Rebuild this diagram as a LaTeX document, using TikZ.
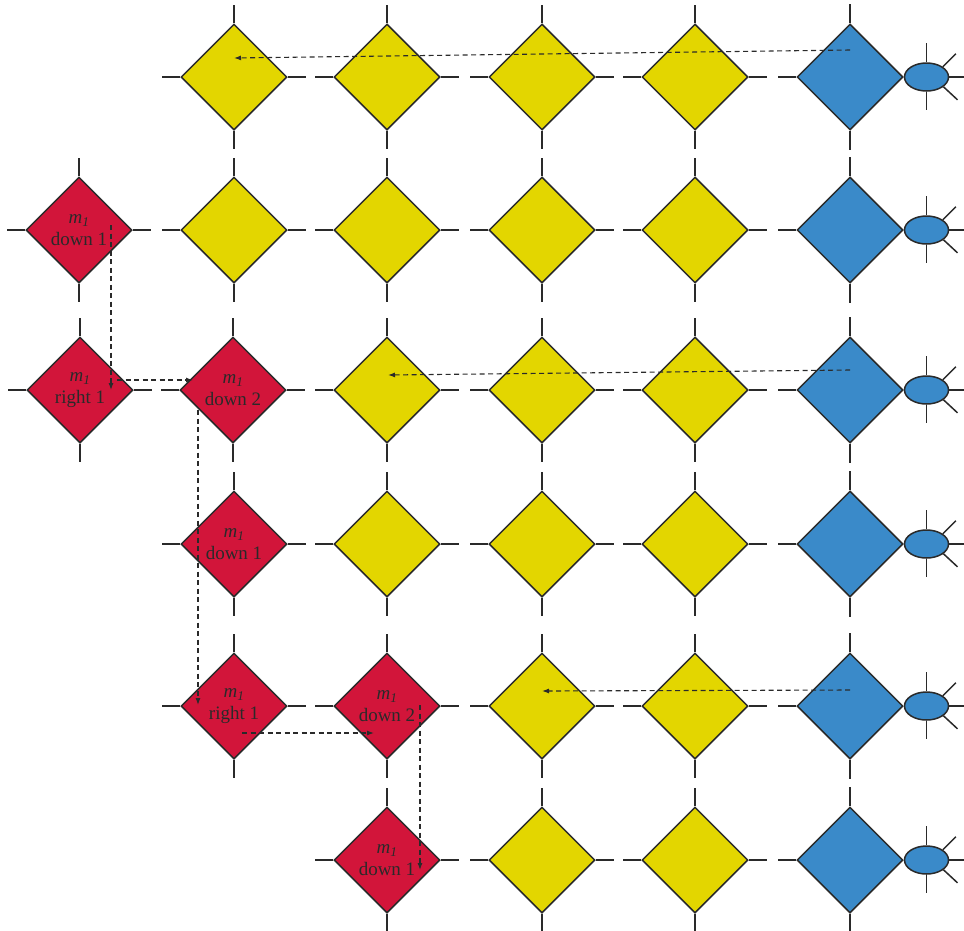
\documentclass[tikz,border=0pt]{standalone}
\usepackage{fontspec}
\setmainfont{Liberation Serif}
\usetikzlibrary{shapes.geometric,arrows.meta,calc}
\definecolor{cred}{HTML}{D2153A}
\definecolor{cyel}{HTML}{E3D600}
\definecolor{cblu}{HTML}{3A8AC9}
\definecolor{cink}{HTML}{2A2A2A}
\tikzset{
  dia/.style={diamond, draw=cink, line width=1.5pt, minimum width=106pt, minimum height=106pt, inner sep=0pt, aspect=1, font=\fontsize{19}{22}\selectfont, text=cink, align=center},
  stub/.style={draw=cink, line width=1.5pt},
  flow/.style={draw=cink, line width=1.1pt, dash pattern=on 5pt off 3.5pt, -{Latex[length=7pt,width=5pt]}},
  eye/.style={ellipse, draw=cink, line width=1.5pt, fill=cblu, minimum width=44pt, minimum height=28pt, inner sep=0pt}
}
\newcommand\mm{\textit{m}\textsubscript{\textit{1}}}
\newcommand\dmd[5]{%
  \node[dia, fill=#4] (#1) at (#2,#3) {#5};
  \draw[stub] (#1.north) -- ++(0,-18);
  \draw[stub] (#1.south) -- ++(0,18);
  \draw[stub] (#1.west) -- ++(-18,0);
  \draw[stub] (#1.east) -- ++(18,0);
}
\newcommand\bdmd[3]{%
  \node[dia, fill=cblu] (#1) at (#2,#3) {};
  \draw[stub] (#1.north) -- ++(0,-19);
  \draw[stub] (#1.south) -- ++(0,19);
  \draw[stub] (#1.west) -- ++(-18,0);
  \node[eye, anchor=west] (#1e) at (#1.east) {};
  \draw[stub] (#1e.north) -- ++(0,-19);
  \draw[stub] (#1e.south) -- ++(0,18);
  \draw[stub] (#1e.east) -- ++(18,0);
  \draw[stub] (#1e.32) -- ++(13,-13);
  \draw[stub] (#1e.-30) -- ++(14,13);
}
\begin{document}
\begin{tikzpicture}[x=1pt,y=-1pt]
\useasboundingbox (0,0) rectangle (964,930);
% row 1
\dmd{r1c2}{234}{77}{cyel}{}
\dmd{r1c3}{387}{77}{cyel}{}
\dmd{r1c4}{542}{77}{cyel}{}
\dmd{r1c5}{695}{77}{cyel}{}
\bdmd{r1c6}{850}{77}
% row 2
\dmd{r2c1}{79}{230}{cred}{\mm\\down 1}
\dmd{r2c2}{234}{230}{cyel}{}
\dmd{r2c3}{387}{230}{cyel}{}
\dmd{r2c4}{542}{230}{cyel}{}
\dmd{r2c5}{695}{230}{cyel}{}
\bdmd{r2c6}{850}{230}
% row 3
\dmd{r3c1}{80}{390}{cred}{\mm\\right 1}
\dmd{r3c2}{233}{390}{cred}{\mm\\down 2}
\dmd{r3c3}{387}{390}{cyel}{}
\dmd{r3c4}{542}{390}{cyel}{}
\dmd{r3c5}{695}{390}{cyel}{}
\bdmd{r3c6}{850}{390}
% row 4
\dmd{r4c2}{234}{544}{cred}{\mm\\down 1}
\dmd{r4c3}{387}{544}{cyel}{}
\dmd{r4c4}{542}{544}{cyel}{}
\dmd{r4c5}{695}{544}{cyel}{}
\bdmd{r4c6}{850}{544}
% row 5
\dmd{r5c2}{234}{706}{cred}{\mm\\right 1}
\dmd{r5c3}{387}{706}{cred}{\mm\\down 2}
\dmd{r5c4}{542}{706}{cyel}{}
\dmd{r5c5}{695}{706}{cyel}{}
\bdmd{r5c6}{850}{706}
% row 6
\dmd{r6c3}{387}{860}{cred}{\mm\\down 1}
\dmd{r6c4}{542}{860}{cyel}{}
\dmd{r6c5}{695}{860}{cyel}{}
\bdmd{r6c6}{850}{860}
% dashed flows
\draw[flow] ($(r1c6)+(0,-27)$) -- ($(r1c2)+(0,-19)$);
\draw[flow] ($(r3c6)+(0,-20)$) -- ($(r3c3)+(1,-15)$);
\draw[flow] ($(r5c6)+(0,-16)$) -- ($(r5c4)+(0,-15)$);
\draw[flow] ($(r2c1)+(32,-5)$) -- ($(r3c1)+(31,0)$);
\draw[flow] ($(r3c1)+(37,-10)$) -- ($(r3c2)+(-40,-10)$);
\draw[flow] ($(r3c2)+(-35,20)$) -- ($(r5c2)+(-36,-1)$);
\draw[flow] ($(r5c2)+(8,27)$) -- ($(r5c3)+(-13,27)$);
\draw[flow] ($(r5c3)+(33,-1)$) -- ($(r6c3)+(33,10)$);
\end{tikzpicture}
\end{document}
